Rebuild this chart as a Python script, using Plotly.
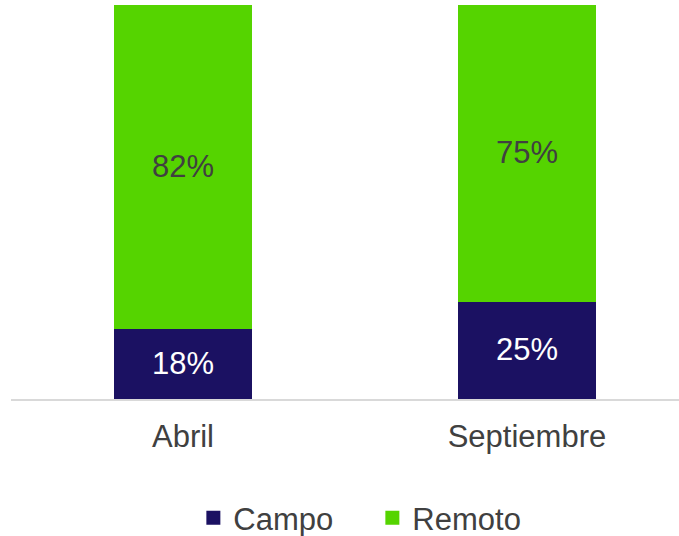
import plotly.graph_objects as go

categories = ["Abril", "Septiembre"]
campo = [18, 25]
remoto = [82, 75]
campo_labels = ["18%", "25%"]
remoto_labels = ["82%", "75%"]

NAVY = "#1B1162"
GREEN = "#55D400"
FONT = "Liberation Sans, Arial, sans-serif"

fig = go.Figure()
fig.add_trace(go.Bar(
    name="Campo", x=categories, y=campo, text=campo_labels,
    marker=dict(color=NAVY, line=dict(width=2, color=NAVY)),
    textposition="inside", insidetextanchor="middle",
    textfont=dict(color="white", size=31, family=FONT),
    width=0.394,
))
fig.add_trace(go.Bar(
    name="Remoto", x=categories, y=remoto, text=remoto_labels,
    marker=dict(color=GREEN, line=dict(width=2, color=GREEN)),
    textposition="inside", insidetextanchor="middle",
    textfont=dict(color="#404040", size=31, family=FONT),
    width=0.394,
))

fig.update_layout(
    barmode="stack",
    width=679, height=536,
    margin=dict(l=11, r=0, t=5, b=137),
    paper_bgcolor="white", plot_bgcolor="white",
    font=dict(family=FONT, size=31, color="#404040"),
    uniformtext=dict(minsize=8, mode="show"),
    xaxis=dict(
        range=[-0.5, 1.442], showline=True, linecolor="#D9D9D9", linewidth=2,
        showgrid=False, ticks="", tickfont=dict(size=31, color="#404040"),
        ticklabelstandoff=9,
    ),
    yaxis=dict(range=[0, 100], visible=False, showgrid=False, zeroline=False),
    showlegend=True,
    legend=dict(
        orientation="h", x=0.273, xanchor="left",
        yref="container", y=0.0336, yanchor="middle",
        font=dict(size=31, color="#404040"), traceorder="normal",
        itemwidth=30, entrywidth=134,
    ),
    bargap=0.6,
)

fig.write_html("out.html", config={"displayModeBar": False},
               post_script="document.body.style.margin='0';")
